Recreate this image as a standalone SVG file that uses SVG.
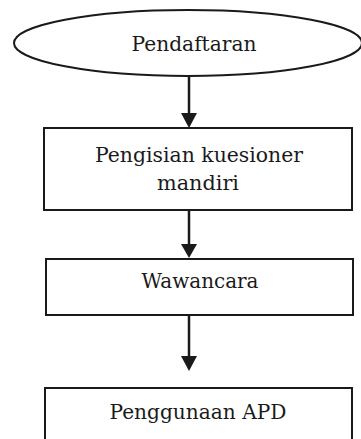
<svg xmlns="http://www.w3.org/2000/svg" width="361" height="439" viewBox="0 0 361 439">
<style>
.shape{fill:#fff;stroke:#1a1a1a;stroke-width:2}
.lbl{font-family:"DejaVu Serif","Liberation Serif",serif;font-size:19.5px;fill:#1a1a1a;text-anchor:middle}
.conn{stroke:#1a1a1a;stroke-width:2.5;fill:none}
.head{fill:#1a1a1a}
</style>
<rect width="361" height="439" fill="#fff"/>
<g id="n1">
<ellipse class="shape" cx="188" cy="43" rx="174" ry="33"/>
<text class="lbl" x="194" y="51" textLength="125" lengthAdjust="spacingAndGlyphs">Pendaftaran</text>
</g>
<g id="n2">
<rect class="shape" x="44" y="128" width="308" height="82"/>
<text class="lbl" x="199" y="162" textLength="208" lengthAdjust="spacingAndGlyphs">Pengisian kuesioner</text>
<text class="lbl" x="198" y="190" textLength="82" lengthAdjust="spacingAndGlyphs">mandiri</text>
</g>
<g id="n3">
<rect class="shape" x="46" y="259" width="307" height="56"/>
<text class="lbl" x="200" y="288" textLength="117" lengthAdjust="spacingAndGlyphs">Wawancara</text>
</g>
<g id="n4">
<rect class="shape" x="45" y="388" width="307" height="60"/>
<text class="lbl" x="198" y="419" textLength="177" lengthAdjust="spacingAndGlyphs">Penggunaan APD</text>
</g>
<g id="connectors">
<line class="conn" x1="189" y1="76" x2="189" y2="115"/>
<polygon class="head" points="181,113 197,113 189,128"/>
<line class="conn" x1="189" y1="210" x2="189" y2="246"/>
<polygon class="head" points="181,244 197,244 189,258"/>
<line class="conn" x1="189" y1="315" x2="189" y2="358"/>
<polygon class="head" points="181,356 197,356 189,371"/>
</g>
</svg>
